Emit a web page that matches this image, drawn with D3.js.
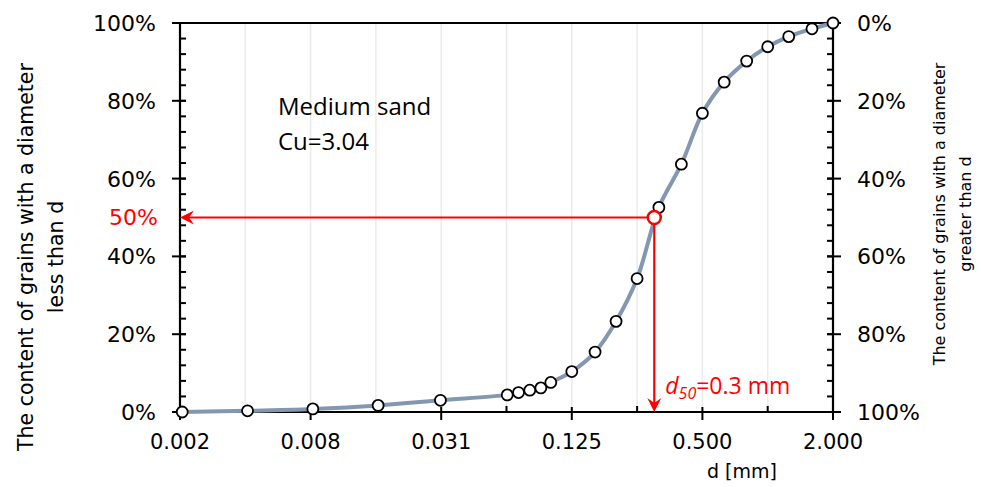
<!DOCTYPE html>
<html>
<head>
<meta charset="utf-8">
<script src="https://cdn.jsdelivr.net/npm/d3@7"></script>
<style>
  body { margin: 0; background: #fff; }
  svg { display: block; }
  text { font-family: "DejaVu Sans", sans-serif; fill: #000; }
</style>
</head>
<body>
<div id="chart"></div>
<script>
// grain size [mm] and passing [%]
const sizes = [0.002, 0.004, 0.008, 0.016, 0.031, 0.063, 0.071, 0.08, 0.09, 0.1, 0.125,
  0.16, 0.2, 0.25, 0.315, 0.4, 0.5, 0.63, 0.8, 1.0, 1.25, 1.6, 2.0];
const passing = [0, 0.3, 0.8, 1.7, 3.0, 4.4, 5.0, 5.6, 6.2, 7.6, 10.4,
  15.4, 23.3, 34.3, 52.6, 63.7, 76.8, 84.8, 90.2, 93.9, 96.5, 98.5, 100];

const d50 = 0.3;
const d50Pct = 50;
const octaves = d3.range(-9, 2);          // 2^-9 .. 2^1
const yTicks = d3.range(0, 101, 20);
const yMinor = d3.range(0, 101, 4);
const soilName = "Medium sand";
const cuText = "Cu=3.04";

const W = 981, H = 487;
const margin = { top: 23, right: 148, bottom: 75, left: 180 };

const svg = d3.select("#chart").append("svg")
  .attr("width", W).attr("height", H);

const x = d3.scaleLog().base(2)
  .domain([Math.pow(2, -9), 2])
  .range([margin.left, W - margin.right]);
const y = d3.scaleLinear()
  .domain([0, 100])
  .range([H - margin.bottom, margin.top]);

const x0 = x.range()[0], x1 = x.range()[1];
const yb = y(0), yt = y(100);

// vertical gridlines
svg.append("g").selectAll("line")
  .data(octaves.slice(1, -1))
  .enter().append("line")
  .attr("x1", d => x(Math.pow(2, d))).attr("x2", d => x(Math.pow(2, d)))
  .attr("y1", yt).attr("y2", yb)
  .attr("stroke", "#ebebeb").attr("stroke-width", 1.5);

// frame lines
svg.append("line").attr("x1", x0 - 8).attr("x2", x1).attr("y1", yt).attr("y2", yt)
  .attr("stroke", "#000").attr("stroke-width", 2);

// left axis
const gl = svg.append("g");
gl.append("line").attr("x1", x0).attr("x2", x0).attr("y1", yt).attr("y2", yb)
  .attr("stroke", "#000").attr("stroke-width", 2.2);
gl.selectAll(".mn").data(yMinor).enter().append("line")
  .attr("x1", x0).attr("x2", x0 + 6)
  .attr("y1", d => y(d)).attr("y2", d => y(d))
  .attr("stroke", "#000").attr("stroke-width", 2);
gl.selectAll(".mj").data(yTicks).enter().append("line")
  .attr("x1", x0 - 8).attr("x2", x0 + 6)
  .attr("y1", d => y(d)).attr("y2", d => y(d))
  .attr("stroke", "#000").attr("stroke-width", 2);
gl.selectAll("text").data(yTicks).enter().append("text")
  .attr("x", x0 - 24).attr("y", d => y(d))
  .attr("dy", "0.36em")
  .attr("text-anchor", "end")
  .attr("font-size", 22)
  .text(d => d + "%");

// right axis
const gr = svg.append("g");
gr.append("line").attr("x1", x1).attr("x2", x1).attr("y1", yt).attr("y2", yb)
  .attr("stroke", "#000").attr("stroke-width", 2.2);
gr.selectAll(".mn").data(yMinor).enter().append("line")
  .attr("x1", x1 - 6).attr("x2", x1)
  .attr("y1", d => y(d)).attr("y2", d => y(d))
  .attr("stroke", "#000").attr("stroke-width", 2);
gr.selectAll(".mj").data(yTicks).enter().append("line")
  .attr("x1", x1 - 6).attr("x2", x1 + 8)
  .attr("y1", d => y(d)).attr("y2", d => y(d))
  .attr("stroke", "#000").attr("stroke-width", 2);
gr.selectAll("text").data(yTicks).enter().append("text")
  .attr("x", x1 + 24).attr("y", d => y(d))
  .attr("dy", "0.36em")
  .attr("font-size", 22)
  .text(d => (100 - d) + "%");

// bottom axis
const gb = svg.append("g");
gb.append("line").attr("x1", x0).attr("x2", x1 + 8).attr("y1", yb).attr("y2", yb)
  .attr("stroke", "#000").attr("stroke-width", 2.2);
gb.selectAll(".tk").data(octaves).enter().append("line")
  .attr("x1", d => x(Math.pow(2, d))).attr("x2", d => x(Math.pow(2, d)))
  .attr("y1", (d, i) => i % 2 === 0 ? yb - 5 : yb - 6)
  .attr("y2", (d, i) => i % 2 === 0 ? yb + 8 : yb)
  .attr("stroke", "#000").attr("stroke-width", 2);
gb.selectAll("text").data(octaves.filter((d, i) => i % 2 === 0)).enter().append("text")
  .attr("x", d => x(Math.pow(2, d))).attr("y", yb + 29)
  .attr("dy", "0.36em")
  .attr("text-anchor", "middle")
  .attr("font-size", 21)
  .text(d => d3.format(".3f")(Math.pow(2, d)));

svg.append("text")
  .attr("x", 742).attr("y", 478)
  .attr("text-anchor", "middle")
  .attr("font-size", 19)
  .text("d [mm]");

// axis titles
const leftTitle = svg.append("text")
  .attr("transform", "translate(0,257) rotate(-90)")
  .attr("text-anchor", "middle")
  .attr("font-size", 20.5);
leftTitle.append("tspan").attr("x", 0).attr("y", 33).text("The content of grains with a diameter");
leftTitle.append("tspan").attr("x", 0).attr("y", 63).text("less than d");

const rightTitle = svg.append("text")
  .attr("transform", "translate(0,214) rotate(-90)")
  .attr("text-anchor", "middle")
  .attr("font-size", 16);
rightTitle.append("tspan").attr("x", 0).attr("y", 945).text("The content of grains with a diameter");
rightTitle.append("tspan").attr("x", 0).attr("y", 971).text("greater than d");

// grading curve
const pts = sizes.map((s, i) => [x(s), y(passing[i])]);
svg.append("path")
  .datum(pts)
  .attr("d", d3.line().curve(d3.curveCatmullRom.alpha(0.5)))
  .attr("fill", "none")
  .attr("stroke", "#8497b0")
  .attr("stroke-width", 4);

// d50 guide arrows
const cx = x(d50), cy = y(d50Pct);
const red = "#ff0000";
svg.append("line").attr("x1", cx).attr("x2", x0 + 4).attr("y1", cy).attr("y2", cy)
  .attr("stroke", red).attr("stroke-width", 2.2);
svg.append("line").attr("x1", cx).attr("x2", cx).attr("y1", cy).attr("y2", yb - 4)
  .attr("stroke", red).attr("stroke-width", 2.2);
// arrow heads
svg.append("path")
  .attr("d", `M${x0},${cy} L${x0 + 14},${cy - 7} L${x0 + 9},${cy} L${x0 + 14},${cy + 7} Z`)
  .attr("fill", red);
svg.append("path")
  .attr("d", `M${cx},${yb} L${cx - 7},${yb - 14} L${cx},${yb - 9} L${cx + 7},${yb - 14} Z`)
  .attr("fill", red);

// points
svg.append("g").selectAll("circle")
  .data(pts).enter().append("circle")
  .attr("cx", d => d[0]).attr("cy", d => d[1])
  .attr("r", 5.5)
  .attr("fill", "#fff")
  .attr("stroke", "#000")
  .attr("stroke-width", 1.8);

svg.append("circle")
  .attr("cx", cx).attr("cy", cy).attr("r", 6.5)
  .attr("fill", "#fff").attr("stroke", red).attr("stroke-width", 2.5);

// red labels
svg.append("text")
  .attr("x", x0 - 22).attr("y", cy)
  .attr("dy", "0.36em")
  .attr("text-anchor", "end")
  .attr("font-size", 22)
  .style("fill", red)
  .text(d50Pct + "%");

const dl = svg.append("text")
  .attr("x", cx + 11).attr("y", yb - 18)
  .style("font-family", "'Open Sans', sans-serif")
  .attr("font-size", 23)
  .style("fill", red);
dl.append("tspan").attr("font-style", "italic").text("d");
dl.append("tspan").attr("font-style", "italic").attr("font-size", 16).attr("dy", 5).text("50");
dl.append("tspan").attr("dy", -5).text("=" + d50 + " mm");

// annotation
const ann = svg.append("text")
  .style("font-family", "'Open Sans', sans-serif")
  .attr("font-size", 24);
ann.append("tspan").attr("x", 278).attr("y", 115).text(soilName);
ann.append("tspan").attr("x", 278).attr("y", 150).text(cuText);
</script>
</body>
</html>
